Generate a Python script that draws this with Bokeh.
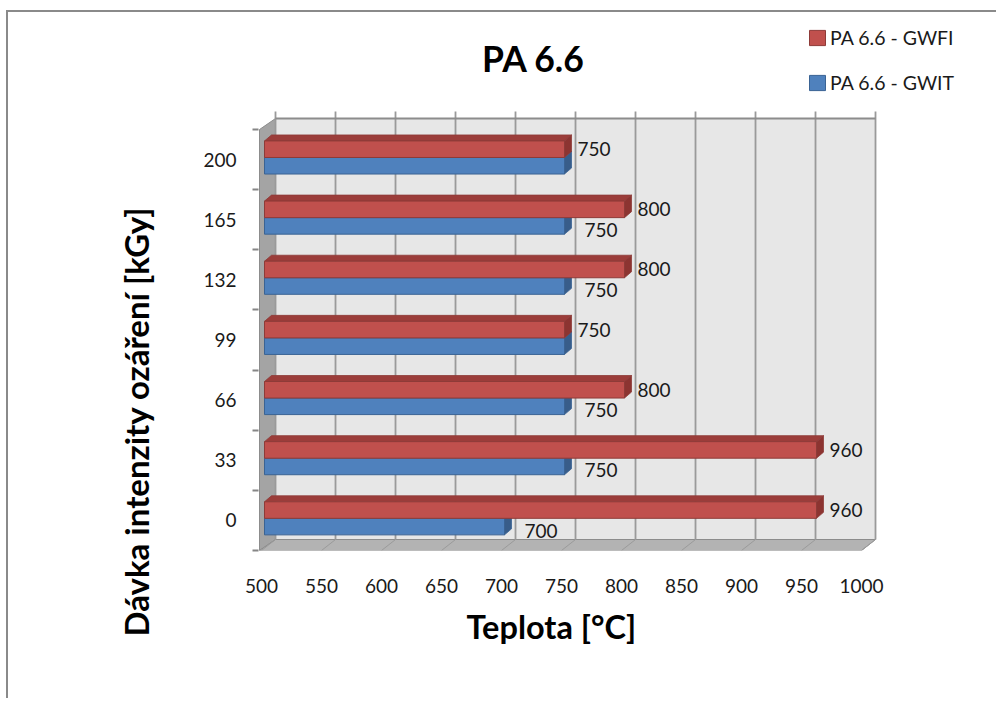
import numpy as np
from bokeh.plotting import figure
from bokeh.models import FixedTicker, Range1d, Title, Legend, LegendItem
from bokeh.core.properties import value
from bokeh.embed import file_html
from bokeh.resources import INLINE

# ---- data ---------------------------------------------------------------
doses = ["0", "33", "66", "99", "132", "165", "200"]          # irradiation dose, kGy
gwfi = [960, 960, 800, 750, 800, 800, 750]                   # glow-wire flammability index, °C
gwit = [700, 750, 750, 750, 750, 750, 750]                   # glow-wire ignition temperature, °C
temp_ticks = [500, 550, 600, 650, 700, 750, 800, 850, 900, 950, 1000]
series_names = ["PA 6.6 - GWFI", "PA 6.6 - GWIT"]
title_text = "PA 6.6"
x_title = "Teplota [°C]"
y_title = "Dávka intenzity ozáření [kGy]"

# ---- canvas geometry (pixels) --------------------------------------------
W, H = 990, 688
FRAME_L, FRAME_R, FRAME_T, FRAME_B = 250, 990, 0, 538
PX_X = 1.2      # pixels per °C
PX_Y = 60.14    # pixels per dose category
FONT = "Lato"
INK = "#1a1a1a"

X0 = temp_ticks[0] - 3 / PX_X
Y0 = -0.5


def ux(px):
    return px / PX_X


def uy(px):
    return px / PX_Y


def at(cx, cy):
    """canvas pixel -> data coordinates"""
    return X0 + (cx - FRAME_L) / PX_X, Y0 + (FRAME_B - cy) / PX_Y


LO, HI = temp_ticks[0], temp_ticks[-1]
n = len(doses)
cat = np.arange(n, dtype=float)

WX, WY = ux(14), uy(11)   # depth of the chart box
BS = ux(3)                # bars stand a little behind the front edge
BX, BY = ux(7), uy(6)     # depth of a bar

p = figure(
    width=W, height=H, title=None,
    x_range=Range1d(X0, X0 + (FRAME_R - FRAME_L) / PX_X),
    y_range=Range1d(Y0, Y0 + (FRAME_B - FRAME_T) / PX_Y),
    output_backend="svg", toolbar_location=None,
    min_border_left=FRAME_L, min_border_right=W - FRAME_R,
    min_border_top=FRAME_T, min_border_bottom=H - FRAME_B,
)
p.margin = (10, 0, 0, 6)
p.styles = {"border-left": "2px solid #8a8a8a", "border-top": "2px solid #8a8a8a"}
p.background_fill_color = "white"
p.border_fill_color = "white"
p.outline_line_color = None
p.grid.visible = False

# ---- chart box: left wall, back wall, floor --------------------------------
bot, top = -0.5, n - 0.5
xf = LO - ux(2)
p.patch([xf, xf, LO + WX, LO + WX], [bot, top, top + WY, bot + WY],
        fill_color="#a4a4a4", line_color="#8c8c8c", line_width=1)
p.quad(left=LO + WX, right=HI + WX, bottom=bot + WY, top=top + WY,
       fill_color="#e7e7e7", line_color=None)
p.patch([xf, HI, HI + WX, LO + WX], [bot, bot, bot + WY, bot + WY],
        fill_color="#b3b3b3", line_color="#8c8c8c", line_width=1)

grid_x = [t + WX for t in temp_ticks]
p.segment(x0=grid_x, y0=bot + WY, x1=grid_x, y1=top + WY + uy(7),
          line_color="#9a9a9a", line_width=1.8)
p.segment(x0=grid_x, y0=bot + WY, x1=temp_ticks, y1=bot,
          line_color="#9a9a9a", line_width=1)
p.segment(x0=[LO + WX], y0=[top + WY], x1=[HI + WX], y1=[top + WY],
          line_color="#8c8c8c", line_width=1.8)


# ---- 3-D bars -------------------------------------------------------------
def draw_bars(vals, lo_off, hi_off, face, roof, side, edge):
    b = cat + lo_off
    t = cat + hi_off
    v = np.asarray(vals, dtype=float) + BS
    x_start = LO + BS
    roof_xs = [[x_start, vi, vi + BX, x_start + BX] for vi in v]
    roof_ys = [[ti, ti, ti + BY, ti + BY] for ti in t]
    side_xs = [[vi, vi, vi + BX, vi + BX] for vi in v]
    side_ys = [[bi, ti, ti + BY, bi + BY] for bi, ti in zip(b, t)]
    p.patches(roof_xs, roof_ys, fill_color=roof, line_color=edge, line_width=0.8)
    p.patches(side_xs, side_ys, fill_color=side, line_color=edge, line_width=0.8)
    return p.quad(left=x_start, right=v, bottom=b, top=t,
                  fill_color=face, line_color=edge, line_width=1)


RED_LO, RED_HI = 0.035, 0.31
BLUE_LO, BLUE_HI = -0.24, 0.035

blue_r = draw_bars(gwit, BLUE_LO, BLUE_HI, "#4f81bd", "#3f6ea6", "#385d8a", "#3a6394")
red_r = draw_bars(gwfi, RED_LO, RED_HI, "#c0504d", "#9b3d3a", "#8c3431", "#8e3b38")

# ---- value labels -----------------------------------------------------------
lab_kw = dict(text_font=value(FONT), text_font_size="19px", text_color=INK,
              text_align="left", text_baseline="middle")
p.text(x=[v + BS + ux(13) for v in gwfi], y=cat + (RED_LO + RED_HI) / 2,
       text=[str(v) for v in gwfi], **lab_kw)
diff = [i for i in range(n) if gwit[i] != gwfi[i]]
p.text(x=[gwit[i] + BS + ux(20) for i in diff],
       y=[cat[i] + (BLUE_LO + BLUE_HI) / 2 - uy(4) for i in diff],
       text=[str(gwit[i]) for i in diff], **lab_kw)

# ---- chart title ------------------------------------------------------------
tx, ty = at(525, 46)
p.text(x=[tx], y=[ty], text=[title_text], text_font=value(FONT),
       text_font_size="35.5px", text_font_style="bold", text_color="black",
       text_align="center", text_baseline="alphabetic")

# ---- axes -------------------------------------------------------------------
xa = p.xaxis[0]
xa.ticker = FixedTicker(ticks=temp_ticks)
xa.axis_line_color = None
xa.major_tick_line_color = None
xa.minor_tick_line_color = None
xa.major_label_standoff = 22
xa.major_label_text_font = FONT
xa.major_label_text_font_size = "19px"
xa.major_label_text_color = INK

ya = p.yaxis[0]
ya.ticker = FixedTicker(ticks=list(cat), minor_ticks=[c - 0.5 for c in cat] + [n - 0.5])
ya.major_label_overrides = {i: d for i, d in enumerate(doses)}
ya.axis_line_color = None
ya.major_tick_line_color = None
ya.major_tick_out = 0
ya.major_tick_in = 0
ya.minor_tick_line_color = "#868686"
ya.minor_tick_line_width = 2
ya.minor_tick_out = 6
ya.minor_tick_in = 0
ya.major_label_standoff = 16
ya.major_label_text_font = FONT
ya.major_label_text_font_size = "19px"
ya.major_label_text_color = INK

p.add_layout(Title(text=x_title, align="left", offset=208, standoff=18,
                   text_font=FONT, text_font_size="32.5px",
                   text_font_style="bold", text_color="black"), "below")
p.add_layout(Title(text=y_title, align="left", offset=-86, standoff=90,
                   text_font=FONT, text_font_size="33px",
                   text_font_style="bold", text_color="black"), "left")

# ---- legend -----------------------------------------------------------------
legend = Legend(
    items=[LegendItem(label=series_names[0], renderers=[red_r]),
           LegendItem(label=series_names[1], renderers=[blue_r])],
    location=(549, 456), orientation="vertical", padding=0, margin=0,
    spacing=22, glyph_width=20, glyph_height=19, label_height=20,
    label_standoff=3, border_line_color=None, background_fill_alpha=0,
    label_text_font=FONT, label_text_font_size="19.5px", label_text_color=INK,
)
p.add_layout(legend)

open("out.html", "w").write(file_html(p, INLINE))
